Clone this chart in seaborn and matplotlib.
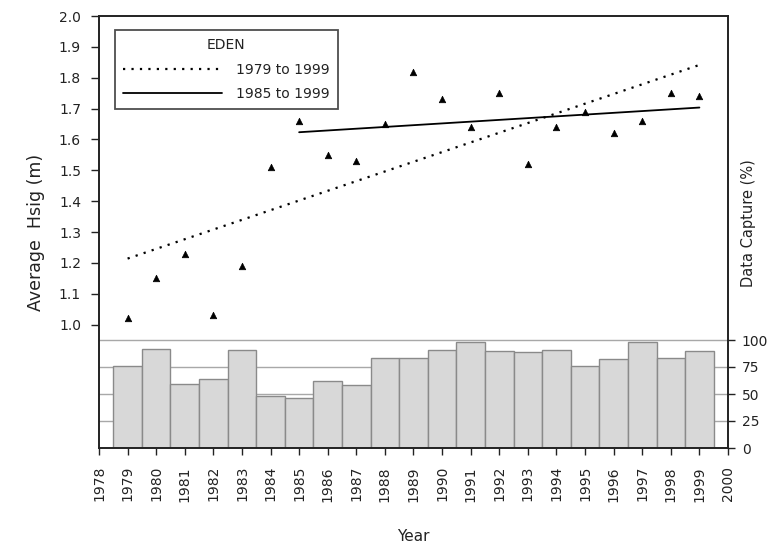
import numpy as np
import pandas as pd
import matplotlib
matplotlib.use("Agg")
import matplotlib.pyplot as plt
import seaborn as sns
from matplotlib.lines import Line2D

years = [1979, 1980, 1981, 1982, 1983, 1984, 1985, 1986, 1987, 1988, 1989,
         1990, 1991, 1992, 1993, 1994, 1995, 1996, 1997, 1998, 1999]
hsig = [1.02, 1.15, 1.23, 1.03, 1.19, 1.51, 1.66, 1.55, 1.53, 1.65, 1.82,
        1.73, 1.64, 1.75, 1.52, 1.64, 1.69, 1.62, 1.66, 1.75, 1.74]
capture = [76, 92, 59, 64, 91, 48, 46, 62, 58, 83, 83,
           91, 98, 90, 89, 91, 76, 82, 98, 83, 90]
trend_labels = ["1979 to 1999", "1985 to 1999"]
trend_starts = [1979, 1985]
legend_title = "EDEN"
xticks = list(range(1978, 2001))
left_ticks = [1.0, 1.1, 1.2, 1.3, 1.4, 1.5, 1.6, 1.7, 1.8, 1.9, 2.0]
right_ticks = [0, 25, 50, 75, 100]

sns.set_theme(style="white")
plt.rcParams['font.family'] = ['DejaVu Sans']
plt.rcParams['axes.edgecolor'] = '#222222'
plt.rcParams['xtick.color'] = '#222222'
plt.rcParams['ytick.color'] = '#222222'
plt.rcParams['text.color'] = '#222222'
plt.rcParams['axes.labelcolor'] = '#222222'

df = pd.DataFrame({"year": years, "hsig": hsig, "capture": capture})

fig = plt.figure(figsize=(7.68, 5.5), dpi=100)
ax = fig.add_axes([99/768, 1-448/550, (728-99)/768, (448-16)/550])
ax2 = ax.twinx()

# bars (data capture) on right axis
ax2.set_axisbelow(True)
for v in right_ticks[1:]:
    ax2.axhline(v, color='#a8a8a8', lw=1.0, zorder=0)
sns.barplot(data=df, x="year", y="capture", native_scale=True, width=1,
            color="#d8d8d8", saturation=1, edgecolor="#8a8a8a", linewidth=1.0,
            ax=ax2, zorder=2)

# scatter
sns.scatterplot(data=df, x="year", y="hsig", marker="^", color="black",
                s=22, edgecolor="black", linewidth=0.5, ax=ax, zorder=3)

# trend lines
styles = [dict(ls=(0, (1, 2.8)), lw=1.6), dict(ls='-', lw=1.3)]
handles = []
for start, lab, st in zip(trend_starts, trend_labels, styles):
    sub = df[df["year"] >= start]
    coef = np.polyfit(sub["year"], sub["hsig"], 1)
    xs = np.array([start, 1999])
    ax.plot(xs, np.polyval(coef, xs), color="black", linestyle=st["ls"], lw=st["lw"], zorder=2)
    handles.append(Line2D([], [], color="black", linestyle=st["ls"], lw=st["lw"], label=lab))

ax.set_xlim(1978, 2000)
ax.set_ylim(0.6, 2.0)
ax2.set_ylim(0, 400)
ax.set_xticks(xticks)
ax.set_xticklabels([str(x) for x in xticks], rotation=90, fontsize=10)
ax.set_yticks(left_ticks)
ax.set_yticklabels([f"{v:.1f}" for v in left_ticks], fontsize=10)
ax2.set_yticks(right_ticks)
ax2.set_yticklabels([str(v) for v in right_ticks], fontsize=10)

ax.tick_params(axis='x', direction='out', length=5, width=1, pad=8, bottom=True)
ax.tick_params(axis='y', direction='out', length=6, width=1, pad=7, left=True)
ax2.tick_params(axis='y', direction='out', length=5, width=1, pad=5, right=True)

ax.set_xlabel("Year", fontsize=11, labelpad=20)
ax.set_ylabel("Average  Hsig (m)", fontsize=12.5, labelpad=10)
ax2.set_ylabel("Data Capture (%)", fontsize=10.5)
ax2.yaxis.set_label_coords(1.02, 0.52)

for a in (ax, ax2):
    for s in a.spines.values():
        s.set_linewidth(1.2)
        s.set_color('#222222')

leg = ax.legend(handles=handles, title=legend_title, loc="upper left",
                bbox_to_anchor=(0.0254, 0.9676), borderaxespad=0,
                fontsize=10, title_fontsize=10, handlelength=7.1,
                handletextpad=1.0, labelspacing=0.75, frameon=True,
                fancybox=False, borderpad=0.6)
leg.get_frame().set_edgecolor('#222222')
leg.get_frame().set_linewidth(1.3)
ax.set_zorder(ax2.get_zorder() + 1)
ax.patch.set_visible(False)

fig.savefig("out.png", dpi=100)
